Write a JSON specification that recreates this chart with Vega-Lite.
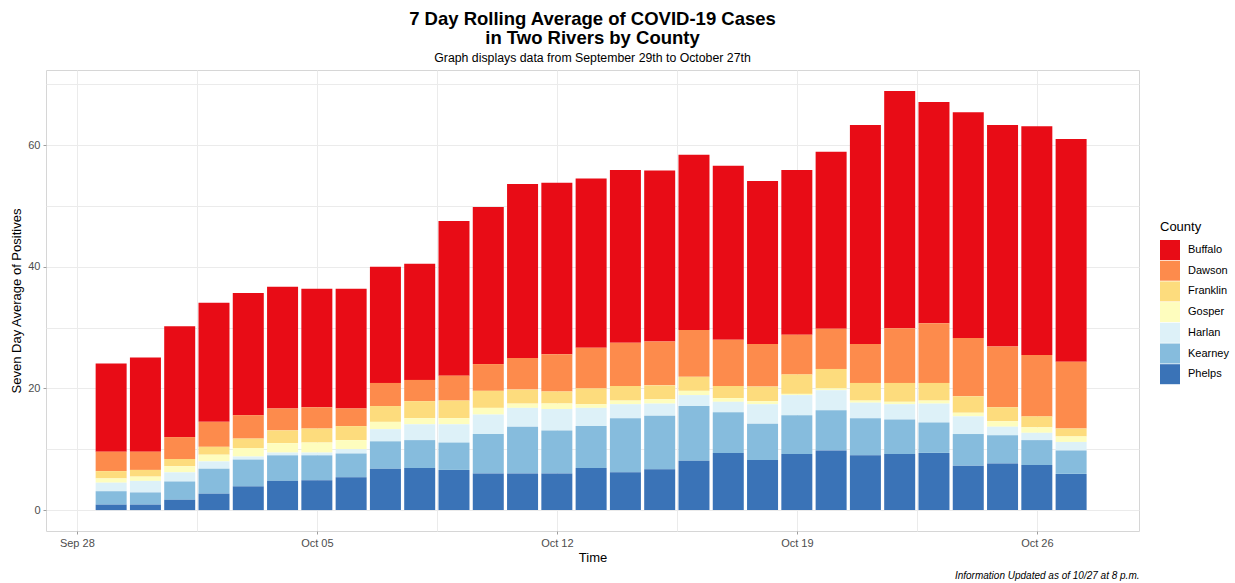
{
  "$schema": "https://vega.github.io/schema/vega-lite/v6.json",
  "width": 1093,
  "height": 461,
  "autosize": "none",
  "padding": {"left": 46, "top": 70, "right": 96, "bottom": 52},
  "background": "white",
  "config": {
    "font": "Liberation Sans",
    "view": {"stroke": "#D6D6D6", "strokeWidth": 1},
    "axis": {"labelFont": "Liberation Sans", "titleFont": "Liberation Sans"}
  },
  "title": {
    "text": ["7 Day Rolling Average of COVID-19 Cases", "in Two Rivers by County"],
    "subtitle": "Graph displays data from September 29th to October 27th",
    "fontSize": 18.5,
    "fontWeight": "bold",
    "color": "black",
    "lineHeight": 19,
    "subtitleFontSize": 12.3,
    "subtitleColor": "black",
    "subtitlePadding": 4,
    "anchor": "middle",
    "offset": 6
  },
  "data": {
    "values": [
      {"date": "2020-09-29", "Phelps": 0.9, "Kearney": 2.2, "Harlan": 1.4, "Gosper": 0.7, "Franklin": 1.2, "Dawson": 3.2, "Buffalo": 14.5},
      {"date": "2020-09-30", "Phelps": 0.9, "Kearney": 2.0, "Harlan": 1.9, "Gosper": 0.7, "Franklin": 1.1, "Dawson": 3.0, "Buffalo": 15.5},
      {"date": "2020-10-01", "Phelps": 1.7, "Kearney": 3.0, "Harlan": 1.5, "Gosper": 1.0, "Franklin": 1.2, "Dawson": 3.6, "Buffalo": 18.2},
      {"date": "2020-10-02", "Phelps": 2.7, "Kearney": 4.1, "Harlan": 1.2, "Gosper": 1.1, "Franklin": 1.3, "Dawson": 4.1, "Buffalo": 19.6},
      {"date": "2020-10-03", "Phelps": 3.9, "Kearney": 4.4, "Harlan": 0.5, "Gosper": 1.4, "Franklin": 1.55, "Dawson": 3.85, "Buffalo": 20.1},
      {"date": "2020-10-04", "Phelps": 4.8, "Kearney": 4.2, "Harlan": 0.45, "Gosper": 1.55, "Franklin": 2.1, "Dawson": 3.6, "Buffalo": 20.0},
      {"date": "2020-10-05", "Phelps": 4.9, "Kearney": 4.1, "Harlan": 0.45, "Gosper": 1.65, "Franklin": 2.3, "Dawson": 3.5, "Buffalo": 19.5},
      {"date": "2020-10-06", "Phelps": 5.4, "Kearney": 3.9, "Harlan": 0.7, "Gosper": 1.5, "Franklin": 2.3, "Dawson": 2.9, "Buffalo": 19.7},
      {"date": "2020-10-07", "Phelps": 6.8, "Kearney": 4.5, "Harlan": 2.0, "Gosper": 1.2, "Franklin": 2.6, "Dawson": 3.8, "Buffalo": 19.1},
      {"date": "2020-10-08", "Phelps": 6.9, "Kearney": 4.6, "Harlan": 2.6, "Gosper": 1.0, "Franklin": 2.8, "Dawson": 3.5, "Buffalo": 19.1},
      {"date": "2020-10-09", "Phelps": 6.6, "Kearney": 4.5, "Harlan": 3.0, "Gosper": 1.0, "Franklin": 2.9, "Dawson": 4.1, "Buffalo": 25.4},
      {"date": "2020-10-10", "Phelps": 6.0, "Kearney": 6.5, "Harlan": 3.2, "Gosper": 1.1, "Franklin": 2.8, "Dawson": 4.4, "Buffalo": 25.8},
      {"date": "2020-10-11", "Phelps": 6.0, "Kearney": 7.7, "Harlan": 3.1, "Gosper": 0.7, "Franklin": 2.3, "Dawson": 5.2, "Buffalo": 28.6},
      {"date": "2020-10-12", "Phelps": 6.0, "Kearney": 7.1, "Harlan": 3.5, "Gosper": 0.9, "Franklin": 2.0, "Dawson": 6.1, "Buffalo": 28.2},
      {"date": "2020-10-13", "Phelps": 6.9, "Kearney": 6.9, "Harlan": 3.0, "Gosper": 0.6, "Franklin": 2.6, "Dawson": 6.7, "Buffalo": 27.8},
      {"date": "2020-10-14", "Phelps": 6.2, "Kearney": 8.9, "Harlan": 2.3, "Gosper": 0.6, "Franklin": 2.4, "Dawson": 7.1, "Buffalo": 28.4},
      {"date": "2020-10-15", "Phelps": 6.7, "Kearney": 8.8, "Harlan": 2.0, "Gosper": 0.7, "Franklin": 2.3, "Dawson": 7.2, "Buffalo": 28.1},
      {"date": "2020-10-16", "Phelps": 8.1, "Kearney": 9.0, "Harlan": 1.8, "Gosper": 0.7, "Franklin": 2.3, "Dawson": 7.7, "Buffalo": 28.8},
      {"date": "2020-10-17", "Phelps": 9.4, "Kearney": 6.7, "Harlan": 1.7, "Gosper": 0.6, "Franklin": 2.0, "Dawson": 7.6, "Buffalo": 28.6},
      {"date": "2020-10-18", "Phelps": 8.25, "Kearney": 5.95, "Harlan": 3.2, "Gosper": 0.5, "Franklin": 2.4, "Dawson": 7.0, "Buffalo": 26.8},
      {"date": "2020-10-19", "Phelps": 9.2, "Kearney": 6.4, "Harlan": 3.3, "Gosper": 0.2, "Franklin": 3.2, "Dawson": 6.5, "Buffalo": 27.1},
      {"date": "2020-10-20", "Phelps": 9.8, "Kearney": 6.6, "Harlan": 3.3, "Gosper": 0.3, "Franklin": 3.2, "Dawson": 6.6, "Buffalo": 29.1},
      {"date": "2020-10-21", "Phelps": 9.0, "Kearney": 6.1, "Harlan": 2.55, "Gosper": 0.35, "Franklin": 2.9, "Dawson": 6.4, "Buffalo": 36.0},
      {"date": "2020-10-22", "Phelps": 9.2, "Kearney": 5.7, "Harlan": 2.5, "Gosper": 0.4, "Franklin": 3.1, "Dawson": 9.0, "Buffalo": 39.0},
      {"date": "2020-10-23", "Phelps": 9.4, "Kearney": 5.0, "Harlan": 3.1, "Gosper": 0.5, "Franklin": 2.9, "Dawson": 9.8, "Buffalo": 36.4},
      {"date": "2020-10-24", "Phelps": 7.3, "Kearney": 5.2, "Harlan": 2.9, "Gosper": 0.6, "Franklin": 2.7, "Dawson": 9.6, "Buffalo": 37.1},
      {"date": "2020-10-25", "Phelps": 7.65, "Kearney": 4.65, "Harlan": 1.4, "Gosper": 0.9, "Franklin": 2.3, "Dawson": 10.0, "Buffalo": 36.4},
      {"date": "2020-10-26", "Phelps": 7.4, "Kearney": 4.1, "Harlan": 1.2, "Gosper": 0.9, "Franklin": 1.8, "Dawson": 10.1, "Buffalo": 37.6},
      {"date": "2020-10-27", "Phelps": 5.95, "Kearney": 3.85, "Harlan": 1.4, "Gosper": 0.9, "Franklin": 1.3, "Dawson": 11.0, "Buffalo": 36.6}
    ]
  },
  "transform": [
    {"fold": ["Buffalo", "Dawson", "Franklin", "Gosper", "Harlan", "Kearney", "Phelps"], "as": ["County", "value"]}
  ],
  "layer": [
    {
      "mark": {"type": "bar", "width": 31},
      "encoding": {
        "x": {
          "field": "date",
          "type": "temporal",
          "scale": {"type": "utc", "domain": [1601173440000, 1603927872000], "nice": false, "padding": 0},
          "axis": {
            "title": "Time",
            "titleFontSize": 13,
            "titleFontWeight": "normal",
            "titleColor": "black",
            "titlePadding": 3,
            "values": [1601251200000, 1601553600000, 1601856000000, 1602158400000, 1602460800000, 1602763200000, 1603065600000, 1603368000000, 1603670400000],
            "format": "%b %d",
            "labelExpr": "utchours(datum.value) == 0 ? datum.label : ''",
            "labelOverlap": false,
            "labelFontSize": 11,
            "labelColor": "#4D4D4D",
            "labelPadding": 3,
            "tickColor": "#9E9E9E",
            "tickSize": 3,
            "tickOpacity": {"condition": {"test": "utchours(datum.value) != 0", "value": 0}, "value": 1},
            "domain": false,
            "gridColor": "#EBEBEB",
            "gridWidth": 1
          }
        },
        "y": {
          "field": "value",
          "type": "quantitative",
          "stack": "zero",
          "scale": {"domain": [-3.44, 72.34], "nice": false, "zero": false},
          "axis": {
            "title": "Seven Day Average of Positives",
            "titleFontSize": 13,
            "titleFontWeight": "normal",
            "titleColor": "black",
            "titlePadding": 4,
            "values": [0, 10, 20, 30, 40, 50, 60, 70],
            "labelExpr": "datum.value % 20 == 0 ? datum.label : ''",
            "labelOverlap": false,
            "labelFontSize": 11,
            "labelColor": "#4D4D4D",
            "labelPadding": 3,
            "tickColor": "#9E9E9E",
            "tickSize": 3,
            "tickOpacity": {"condition": {"test": "datum.value % 20 != 0", "value": 0}, "value": 1},
            "domain": false,
            "gridColor": "#EBEBEB",
            "gridWidth": 1
          }
        },
        "color": {
          "field": "County",
          "type": "nominal",
          "scale": {
            "domain": ["Buffalo", "Dawson", "Franklin", "Gosper", "Harlan", "Kearney", "Phelps"],
            "range": ["#E80C16", "#FD8B4C", "#FDDC7D", "#FEFDBE", "#DDF1F8", "#86BCDD", "#3A73B7"]
          },
          "legend": {
            "title": "County",
            "titleFontSize": 13,
            "titleFontWeight": "normal",
            "titleColor": "black",
            "titlePadding": 6,
            "labelFontSize": 11,
            "labelColor": "black",
            "symbolType": "square",
            "symbolSize": 400,
            "symbolStrokeWidth": 0,
            "rowPadding": 0.7,
            "labelOffset": 8,
            "orient": "none",
            "legendX": 1114,
            "legendY": 151
          }
        },
        "order": {"field": "County", "sort": "descending"}
      }
    },
    {
      "mark": {"type": "point", "opacity": 0},
      "encoding": {
        "x": {
          "field": "date",
          "type": "temporal",
          "axis": {
            "title": "Information Updated as of 10/27 at 8 p.m.",
            "titleFontSize": 10,
            "titleFontStyle": "italic",
            "titleFontWeight": "normal",
            "titleColor": "black",
            "titleAnchor": "end",
            "titleBaseline": "alphabetic",
            "titleY": 47,
            "labels": false,
            "ticks": false,
            "domain": false,
            "grid": false,
            "orient": "bottom"
          }
        }
      }
    }
  ],
  "resolve": {"axis": {"x": "independent"}}
}
